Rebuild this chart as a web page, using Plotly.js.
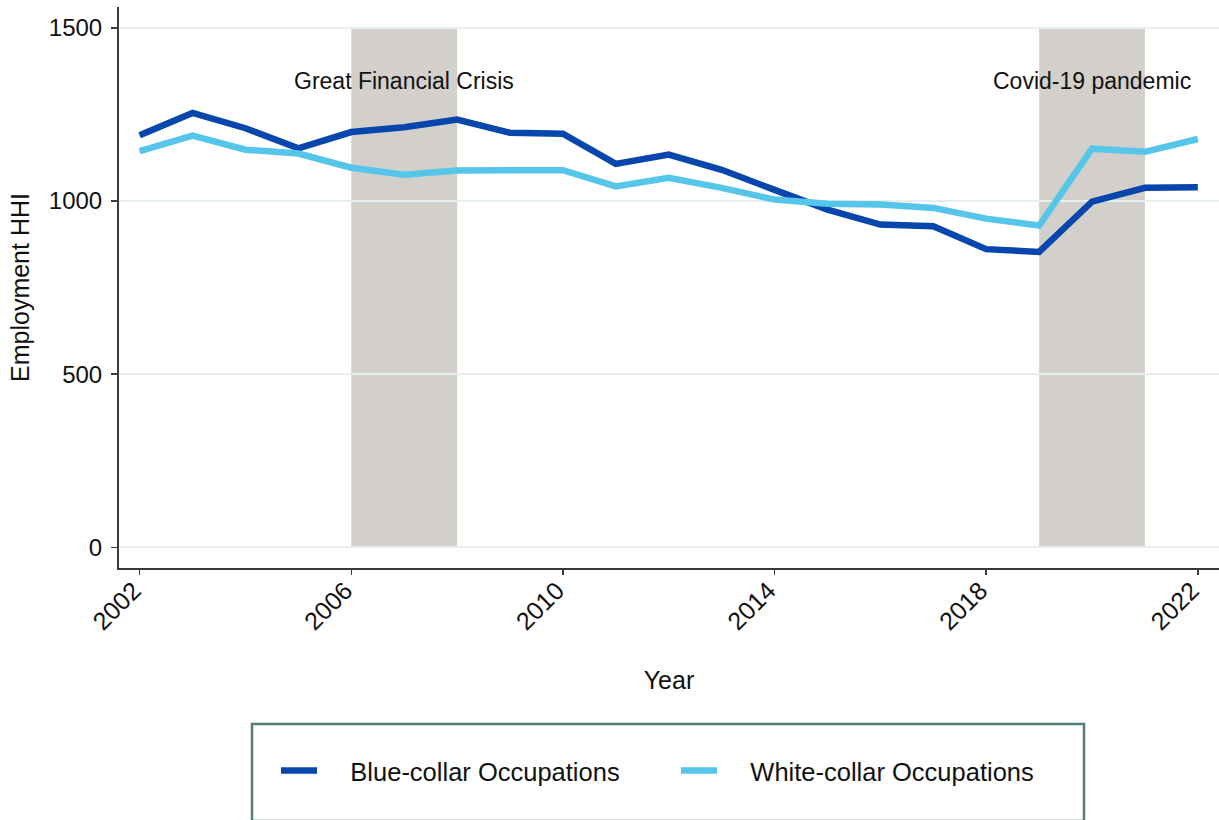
<!DOCTYPE html>
<html>
<head>
<meta charset="utf-8">
<script src="https://cdn.plot.ly/plotly-3.0.1.min.js"></script>
<style>
  html, body { margin: 0; padding: 0; background: #ffffff; }
  #chart { width: 1219px; height: 820px; }
</style>
</head>
<body>
<div id="chart"></div>
<script>
// ---- data ----
const years = [2002, 2003, 2004, 2005, 2006, 2007, 2008, 2009, 2010, 2011, 2012,
               2013, 2014, 2015, 2016, 2017, 2018, 2019, 2020, 2021, 2022];
const blueCollar = [1190, 1254, 1210, 1152, 1199, 1213, 1235, 1197, 1194, 1107, 1134,
                    1090, 1032, 975, 932, 927, 861, 853, 998, 1038, 1040];
const whiteCollar = [1144, 1189, 1148, 1137, 1096, 1076, 1088, 1089, 1089, 1042, 1067,
                     1038, 1004, 992, 990, 980, 949, 929, 1151, 1142, 1179];
const seriesNames = ['Blue-collar Occupations', 'White-collar Occupations'];
const shadeStart = [2006, 2019];
const shadeEnd = [2008, 2021];
const shadeLabels = ['Great Financial Crisis', 'Covid-19 pandemic'];
const shadeLabelX = [2007, 2020];
const shadeTop = 1500;
const shadeLabelY = 1345;
const yTicks = [0, 500, 1000, 1500];
const xTicks = [2002, 2006, 2010, 2014, 2018, 2022];

// ---- styling ----
const FONT = 'Arial, "Liberation Sans", sans-serif';
const DARK = '#0646ad';
const LIGHT = '#56c5ea';
const SHADE = '#d3d0cb';
const AXIS = '#3a3a3a';
const LEGEND_PAD = '\u00a0\u00a0\u00a0\u00a0'; // gap between legend key and label

const traces = [
  { x: years, y: blueCollar, name: LEGEND_PAD + seriesNames[0], type: 'scatter', mode: 'lines',
    line: { color: DARK, width: 6.5 } },
  { x: years, y: whiteCollar, name: LEGEND_PAD + seriesNames[1], type: 'scatter', mode: 'lines',
    line: { color: LIGHT, width: 6.5 } }
];

const shapes = shadeStart.map((s, i) => ({
  type: 'rect', xref: 'x', yref: 'y', x0: s, x1: shadeEnd[i], y0: 0, y1: shadeTop,
  fillcolor: SHADE, line: { width: 0 }, layer: 'below'
}));
// legend frame
shapes.push({
  type: 'rect', xref: 'paper', yref: 'paper',
  x0: (252 - 119) / 1100, x1: (1084 - 119) / 1100,
  y0: (568 - 821) / 561, y1: (568 - 724) / 561,
  line: { color: '#4f7f76', width: 2.5 }, fillcolor: 'rgba(0,0,0,0)', layer: 'above'
});

const annotations = shadeLabels.map((t, i) => ({
  x: shadeLabelX[i], y: shadeLabelY, xref: 'x', yref: 'y', text: t, showarrow: false,
  xanchor: 'center', yanchor: 'middle', font: { family: FONT, size: 23, color: '#111' }
}));

const layout = {
  width: 1219, height: 820,
  margin: { l: 119, r: 0, t: 7, b: 252, pad: 0 },
  paper_bgcolor: '#ffffff', plot_bgcolor: '#ffffff',
  font: { family: FONT, color: '#111' },
  showlegend: true,
  legend: {
    orientation: 'h', x: (276 - 119) / 1100, xanchor: 'left',
    y: (568 - 771) / 561, yanchor: 'middle',
    font: { family: FONT, size: 25.5, color: '#111' },
    bgcolor: 'rgba(0,0,0,0)', borderwidth: 0,
    itemwidth: 36, entrywidth: 349, entrywidthmode: 'pixels',
    traceorder: 'normal'
  },
  xaxis: {
    range: [2001.61, 2022.4], tickvals: xTicks, ticktext: xTicks.map(String),
    tickangle: -45, ticks: 'outside', ticklen: 5, tickwidth: 1.5, tickcolor: AXIS,
    showline: true, linecolor: AXIS, linewidth: 2, showgrid: false, zeroline: false,
    tickfont: { family: FONT, size: 25, color: '#111' },
    ticklabelstandoff: -9, ticklabelshift: -6,
    title: { text: 'Year', font: { family: FONT, size: 25, color: '#111' }, standoff: 37 },
    fixedrange: true
  },
  yaxis: {
    range: [-59.5, 1560], tickvals: yTicks, ticktext: yTicks.map(String),
    ticks: 'outside', ticklen: 6, tickwidth: 1.5, tickcolor: AXIS,
    showline: true, linecolor: AXIS, linewidth: 2,
    showgrid: true, gridcolor: '#e6efef', gridwidth: 2, zeroline: false,
    tickfont: { family: FONT, size: 24, color: '#111' }, ticklabelstandoff: 4,
    title: { text: 'Employment HHI', font: { family: FONT, size: 25, color: '#111' }, standoff: 12 },
    fixedrange: true
  },
  shapes: shapes,
  annotations: annotations
};

Plotly.newPlot('chart', traces, layout, { displayModeBar: false, staticPlot: true });
</script>
</body>
</html>
